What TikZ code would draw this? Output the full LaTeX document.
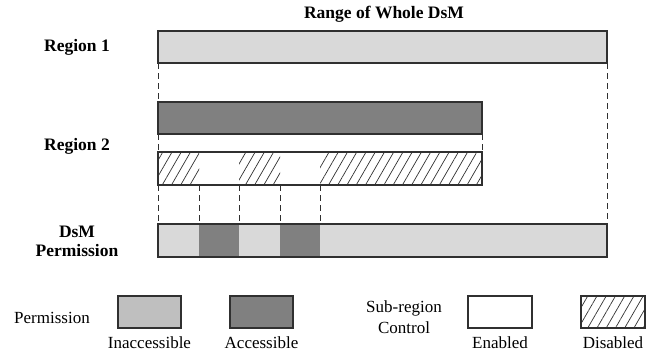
\documentclass[tikz,border=0pt]{standalone}
\usepackage{fontspec}
\setmainfont{Liberation Serif}
\usetikzlibrary{patterns.meta}
\definecolor{lightbar}{HTML}{D9D9D9}
\definecolor{legendlight}{HTML}{BFBFBF}
\definecolor{darkbar}{HTML}{808080}
\definecolor{edge}{HTML}{303030}
\tikzset{
  >=latex,
}
\tikzstyle{bar}=[draw=edge,line width=1.1pt,inner sep=0pt,outer sep=0pt,anchor=north west]
\tikzstyle{hatch}=[pattern={Lines[angle=60,distance=8pt,line width=.7pt]},pattern color=edge]
\tikzstyle{guide}=[draw=edge,line width=1pt,dash pattern=on 6pt off 4pt]
\tikzstyle{every node}=[font=\fontsize{17}{21}\selectfont]
\tikzstyle{rowlabel}=[font=\fontsize{17.5}{19}\selectfont\bfseries,align=center]

\begin{document}
\begin{tikzpicture}[x=1pt,y=-1pt]
    \useasboundingbox (0,0) rectangle (657,354);
    % bars
    \node[bar,fill=lightbar,minimum width=449pt,minimum height=32pt] (reg1) at (158,31) {};
    \node[bar,fill=darkbar,minimum width=324pt,minimum height=32pt] (reg2a) at (158,102) {};
    \fill[hatch] (158,152) rectangle (199,185);
    \fill[hatch] (239,152) rectangle (280,185);
    \fill[hatch] (320,152) rectangle (482,185);
    \node[bar,minimum width=324pt,minimum height=33pt] (reg2b) at (158,152) {};
    \fill[lightbar] (158,224) rectangle (607,257);
    \fill[darkbar] (199,224) rectangle (239,257);
    \fill[darkbar] (280,224) rectangle (320,257);
    \node[bar,minimum width=449pt,minimum height=33pt] (perm) at (158,224) {};
    % dashed guides
    \draw[guide] (reg1.south west) -- (reg2a.north west);
    \draw[guide] (reg1.south east) -- (perm.north east);
    \draw[guide] (reg2a.south west) -- (reg2b.north west);
    \draw[guide] (reg2a.south east) -- (reg2b.north east);
    \draw[guide] (reg2b.south west) -- (perm.north west);
    \foreach \x [count=\i] in {199,239,280,320}{
      \coordinate (sub\i) at (\x,185);
      \draw[guide] (sub\i) -- (sub\i |- perm.north);
    }
    % labels
    \node[rowlabel] (title) at (384,14) {Range of Whole DsM};
    \node[rowlabel] (r1lab) at (77,47) {Region 1};
    \node[rowlabel] (r2lab) at (77,146) {Region 2};
    \node[rowlabel] (permlab) at (77,241) {DsM\\Permission};
    % legend
    \node (legperm) at (52,318) {Permission};
    \node[bar,fill=legendlight,minimum width=63pt,minimum height=32pt] (inacc) at (118,296) {};
    \node[bar,fill=darkbar,minimum width=63pt,minimum height=32pt] (acc) at (230,296) {};
    \node[align=center] (legsub) at (404,317) {Sub-region\\Control};
    \node[bar,minimum width=64pt,minimum height=32pt] (enab) at (468,296) {};
    \fill[hatch] (581,296) rectangle (645,328);
    \node[bar,minimum width=64pt,minimum height=32pt] (disab) at (581,296) {};
    \node (inacctxt) at (inacc.south |- 0,343) {Inaccessible};
    \node (acctxt) at (acc.south |- 0,343) {Accessible};
    \node (enabtxt) at (enab.south |- 0,343) {Enabled};
    \node (disabtxt) at (disab.south |- 0,343) {Disabled};
\end{tikzpicture}
\end{document}
